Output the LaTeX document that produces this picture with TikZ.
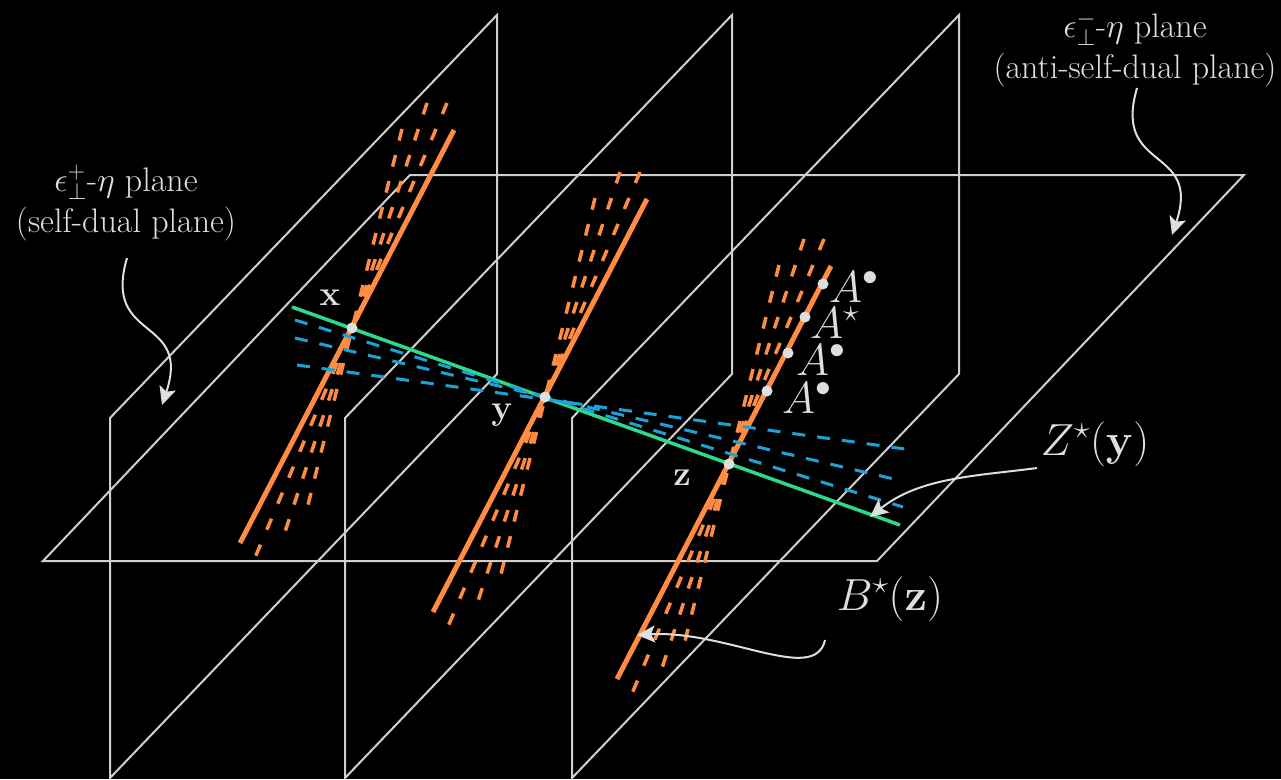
\RequirePackage{fix-cm}
\documentclass[tikz,border=0pt]{standalone}
\usepackage{xcolor}
\usetikzlibrary{arrows.meta}
\usetikzlibrary{calc}
\definecolor{canvas}{HTML}{000000}
\definecolor{wire}{HTML}{CFCFCF}
\definecolor{ink}{HTML}{DCDFDD}
\definecolor{fanorange}{HTML}{FF8C42}
\definecolor{fangreen}{HTML}{2ED98A}
\definecolor{fanblue}{HTML}{1CA3D6}
\tikzset{
  % Wire-frame planes
  plane/.style={draw=wire, line width=2pt},
  % Lines through the points (dash gap given so that the rows line up)
  orangeline/.style={draw=fanorange, line width=5pt},
  orangedash/.style={draw=fanorange, line width=3.5pt, dash pattern=on 12pt off #1pt},
  greenline/.style={draw=fangreen, line width=3.5pt},
  bluedash/.style={draw=fanblue, line width=3pt, dash pattern=on 13pt off 12pt},
  % Marked points
  dot/.style={circle, fill=ink, inner sep=0pt, minimum size=11pt},
  % Labels
  planelbl/.style={text=ink, align=center, inner sep=0pt, font=\fontsize{34}{41}\selectfont},
  mathlbl/.style={text=ink, inner sep=0pt, font=\fontsize{45}{50}\selectfont},
  albl/.style={mathlbl, anchor=base west, text height=30pt, text depth=0pt},
  ptlbl/.style={text=ink, inner sep=0pt, font=\fontsize{35}{40}\selectfont},
  % Curved call-out arrows
  callout/.style={draw=ink, line width=2pt, -{Stealth[length=18pt, width=17pt, inset=4pt]}},
}

\begin{document}
\begin{tikzpicture}[x=1pt, y=-1pt]

  % --- Canvas -----------------------------------------------------------
  \useasboundingbox (0,0) rectangle (1281,779);
  \fill[canvas] (0,0) rectangle (1281,779);

  % --- Planes -----------------------------------------------------------
  \draw[plane] (43,561) -- (877,561) -- (1244,175) -- (410,175) -- cycle;
  \foreach \xl in {110,345,572}
    \draw[plane] (\xl,778) -- (\xl,418) -- ++(387,-403) -- ++(0,359) -- cycle;

  % --- Points -----------------------------------------------------------
  \coordinate (ptx) at (352,328);
  \coordinate (pty) at (545,397);
  \coordinate (ptz) at (729,464);

  % --- Orange fans ------------------------------------------------------
  \foreach \p in {ptx,pty,ptz} {
    \draw[orangedash=14.8] ($(\p)+(50,-199)$) -- ($(\p)+(-46,185)$);
    \draw[orangedash=15.4] ($(\p)+(75,-225)$) -- ($(\p)+(-69,210)$);
    \draw[orangedash=16.2] ($(\p)+(95,-225)$) -- ($(\p)+(-98,232)$);
    \draw[orangeline] ($(\p)+(-112,215)$) -- ($(\p)+(102,-198)$);
  }

  % --- Green line and blue fan ------------------------------------------
  \draw[greenline] (292,307) -- (900,525);
  \draw[bluedash] ($(pty)+(-250,-77)$) -- ($(pty)+(358,110)$);
  \draw[bluedash] ($(pty)+(-250,-59)$) -- ($(pty)+(353,83)$);
  \draw[bluedash] ($(pty)+(-248,-32)$) -- ($(pty)+(360,52)$);

  % --- Dots -------------------------------------------------------------
  \node[dot] (dotx) at (ptx) {};
  \node[dot] (doty) at (pty) {};
  \node[dot] (dotz) at (ptz) {};
  \node[dot] (dota1) at (823,284) {};
  \node[dot] (dota2) at (805,317) {};
  \node[dot] (dota3) at (788,353) {};
  \node[dot] (dota4) at (767,391) {};

  % --- Labels -----------------------------------------------------------
  \node[ptlbl, anchor=base] (lblx) at (330,305) {$\mathbf{x}$};
  \node[ptlbl, anchor=base] (lbly) at (502,419) {$\mathbf{y}$};
  \node[ptlbl, anchor=base] (lblz) at (682,485) {$\mathbf{z}$};

  \node[albl] (lbla1) at (829,302) {$A^\bullet$};
  \node[albl] (lbla2) at (810,338) {$A^\star$};
  \node[albl] (lbla3) at (796,375) {$A^\bullet$};
  \node[albl] (lbla4) at (782,413) {$A^\bullet$};

  \node[mathlbl, anchor=base] (lblzy) at (1095,455) {$Z^\star(\mathbf{y})$};
  \node[mathlbl, anchor=base] (lblbz) at (890,610) {$B^\star(\mathbf{z})$};

  \node[planelbl] (sdlbl)  at (126,203) {$\epsilon^+_\perp$-$\eta$ plane\\(self-dual plane)};
  \node[planelbl] (asdlbl) at (1135,49) {$\epsilon^-_\perp$-$\eta$ plane\\(anti-self-dual plane)};

  % --- Call-outs --------------------------------------------------------
  \coordinate (sdfrom)  at (127,258);
  \coordinate (sdto)    at (162,405);
  \coordinate (asdfrom) at (1137,88);
  \coordinate (asdto)   at (1172,235);
  \coordinate (zyfrom)  at (1037,468);
  \coordinate (zyto)    at (870,517);
  \coordinate (bzfrom)  at (825,640);
  \coordinate (bzto)    at (637,635);

  \draw[callout] (sdfrom)  .. controls +(-25,85) and +(30,-90) .. (sdto);
  \draw[callout] (asdfrom) .. controls +(-25,85) and +(30,-90) .. (asdto);
  \draw[callout] (zyfrom)  .. controls +(-60,8) and +(50,-40) .. (zyto);
  \draw[callout] (bzfrom)  .. controls +(-10,45) and +(90,-5) .. (bzto);

\end{tikzpicture}
\end{document}
